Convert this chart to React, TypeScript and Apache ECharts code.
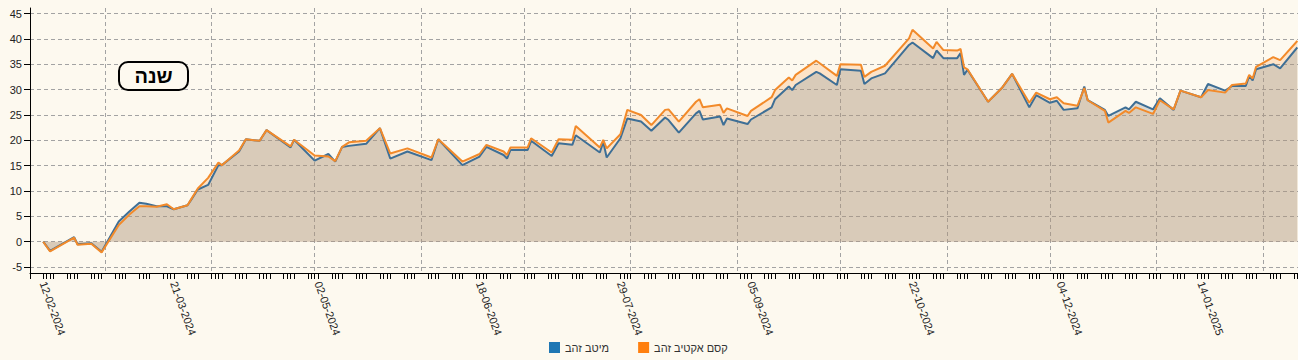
import React, { useEffect, useRef } from 'react';
import * as echarts from 'echarts';

// ---------- data ----------
const seriesNames = ['מיטב זהב', 'קסם אקטיב זהב'];
const periodLabel = 'שנה';

const dates = [
  '2024-02-12', '2024-02-14', '2024-02-21', '2024-02-22', '2024-02-26', '2024-02-29',
  '2024-03-05', '2024-03-08', '2024-03-11', '2024-03-13', '2024-03-16', '2024-03-19',
  '2024-03-21', '2024-03-25', '2024-03-26', '2024-03-28', '2024-03-31', '2024-04-03',
  '2024-04-04', '2024-04-09', '2024-04-11', '2024-04-15', '2024-04-17', '2024-04-24',
  '2024-04-25', '2024-05-01', '2024-05-05', '2024-05-07', '2024-05-09', '2024-05-11',
  '2024-05-16', '2024-05-20', '2024-05-23', '2024-05-28', '2024-06-04', '2024-06-06',
  '2024-06-13', '2024-06-18', '2024-06-20', '2024-06-25', '2024-06-26', '2024-06-27',
  '2024-07-02', '2024-07-03', '2024-07-09', '2024-07-11', '2024-07-15', '2024-07-16',
  '2024-07-23', '2024-07-24', '2024-07-25', '2024-07-29', '2024-07-31', '2024-08-04',
  '2024-08-07', '2024-08-11', '2024-08-12', '2024-08-15', '2024-08-20', '2024-08-21',
  '2024-08-22', '2024-08-27', '2024-08-28', '2024-08-29', '2024-09-04', '2024-09-05',
  '2024-09-11', '2024-09-12', '2024-09-16', '2024-09-17', '2024-09-18', '2024-09-24',
  '2024-09-25', '2024-09-30', '2024-10-01', '2024-10-07', '2024-10-08', '2024-10-10',
  '2024-10-14', '2024-10-21', '2024-10-22', '2024-10-28', '2024-10-29', '2024-10-31',
  '2024-11-04', '2024-11-05', '2024-11-06', '2024-11-07', '2024-11-13', '2024-11-17',
  '2024-11-20', '2024-11-25', '2024-11-27', '2024-12-01', '2024-12-03', '2024-12-05',
  '2024-12-09', '2024-12-11', '2024-12-12', '2024-12-17', '2024-12-18', '2024-12-23',
  '2024-12-24', '2024-12-26', '2024-12-31', '2025-01-02', '2025-01-06', '2025-01-08',
  '2025-01-14', '2025-01-16', '2025-01-21', '2025-01-23', '2025-01-27', '2025-01-28',
  '2025-01-29', '2025-01-30', '2025-02-04', '2025-02-06', '2025-02-11',
];

// מיטב זהב (blue)
const meitavGold = [
  0, -1.8, 0.9, -0.5, -0.3, -2.0,
  4.0, 5.9, 7.7, 7.5, 7.0, 7.0,
  6.4, 7.2, 8.2, 10.3, 11.2, 15.1,
  15.1, 17.8, 20.2, 19.9, 22.0, 18.6,
  20.1, 16.0, 17.3, 15.8, 18.7, 18.9,
  19.3, 22.4, 16.4, 17.8, 16.1, 20.2,
  15.1, 16.8, 18.7, 17.1, 16.4, 18.1,
  18.1, 19.9, 16.9, 19.4, 19.1, 21.0,
  17.6, 19.7, 16.6, 20.4, 24.3, 23.7,
  21.9, 24.5, 24.0, 21.5, 25.3, 25.8,
  24.1, 24.7, 23.0, 24.3, 23.2, 24.1,
  26.5, 28.1, 30.6, 29.9, 30.9, 33.5,
  33.2, 30.9, 34.0, 33.7, 31.1, 32.2,
  33.2, 38.8, 39.3, 36.2, 37.7, 36.2,
  36.2, 37.2, 32.9, 33.9, 27.6, 30.3,
  33.1, 26.5, 28.9, 27.4, 27.8, 26.0,
  26.3, 30.6, 27.9, 26.0, 24.8, 26.5,
  26.1, 27.6, 26.1, 28.3, 26.0, 29.8,
  28.5, 31.1, 29.8, 30.7, 30.7, 32.7,
  31.8, 34.0, 35.0, 34.2, 38.3,
];

// קסם אקטיב זהב (orange)
const kesemGold = [
  0, -1.9, 0.8, -0.6, -0.4, -2.1,
  3.3, 5.3, 7.0, 7.0, 6.9, 7.4,
  6.4, 7.2, 8.3, 10.5, 12.6, 15.6,
  15.1, 18.0, 20.2, 19.9, 22.0, 18.8,
  20.1, 17.0, 16.8, 15.9, 18.7, 19.6,
  19.9, 22.4, 17.4, 18.4, 16.6, 20.2,
  15.8, 17.3, 19.1, 17.8, 17.1, 18.6,
  18.6, 20.4, 17.6, 20.2, 20.1, 22.8,
  18.6, 20.1, 18.4, 21.2, 26.0, 25.0,
  23.0, 26.0, 26.1, 23.7, 27.6, 28.1,
  26.5, 27.0, 25.4, 26.3, 24.8, 25.8,
  28.5, 29.9, 32.4, 31.8, 32.9, 35.7,
  35.2, 32.7, 35.0, 34.9, 32.5, 33.5,
  34.7, 40.1, 41.8, 38.1, 39.4, 37.8,
  37.7, 38.0, 34.4, 34.0, 27.6, 30.3,
  33.1, 27.4, 29.4, 28.1, 28.5, 27.3,
  26.8, 30.3, 27.9, 25.8, 23.5, 25.8,
  25.4, 26.5, 25.2, 27.9, 26.1, 29.8,
  28.5, 29.9, 29.4, 30.9, 31.2, 32.9,
  32.2, 34.5, 36.4, 35.8, 39.6,
];

const labelDates = [
  '2024-02-12', '2024-03-21', '2024-05-02', '2024-06-18', '2024-07-29',
  '2024-09-05', '2024-10-22', '2024-12-04', '2025-01-14',
];
const monthStarts = [
  '2024-03-01', '2024-04-01', '2024-05-01', '2024-06-01', '2024-07-01', '2024-08-01',
  '2024-09-01', '2024-10-01', '2024-11-01', '2024-12-01', '2025-01-01', '2025-02-01',
];
const yTicks = [-5, 0, 5, 10, 15, 20, 25, 30, 35, 40, 45];

// ---------- helpers ----------
const DAY = 86400000;
const ts = (s: string) => {
  const [y, m, d] = s.split('-').map(Number);
  return new Date(y, m - 1, d).getTime();
};
const pad = (n: number) => (n < 10 ? '0' + n : '' + n);
const fmt = (v: number) => {
  const d = new Date(Math.round(v));
  return `${pad(d.getDate())}-${pad(d.getMonth() + 1)}-${d.getFullYear()}`;
};

const BG = '#fdf9ef';
const FONT = '"Liberation Sans", Arial, sans-serif';

export default function App() {
  const ref = useRef<HTMLDivElement>(null);

  useEffect(() => {
    if (!ref.current) return;
    const chart = echarts.init(ref.current, undefined, { renderer: 'svg' });

    const first = ts(dates[0]);
    const last = ts(dates[dates.length - 1]);
    const xMin = first - 3.84 * DAY;
    const xMax = last + 0.2 * DAY;

    // trading-day tick marks (Mon–Thu)
    const tickDays: number[] = [xMin];
    const f = new Date(first);
    for (let i = 0; ; i++) {
      const d = new Date(f.getFullYear(), f.getMonth(), f.getDate() + i);
      const t = d.getTime();
      if (t > last) break;
      const wd = d.getDay();
      if (wd >= 1 && wd <= 4) tickDays.push(t);
    }
    tickDays.push(xMax);

    const blueData = dates.map((d, i) => [ts(d), meitavGold[i]]);
    const orangeData = dates.map((d, i) => [ts(d), kesemGold[i]]);

    chart.setOption({
      animation: false,
      backgroundColor: BG,
      textStyle: { fontFamily: FONT },
      grid: { left: 30, right: 0, top: 8, bottom: 87, containLabel: false },
      legend: {
        data: seriesNames,
        left: 549,
        top: 342,
        padding: 0,
        icon: 'rect',
        itemWidth: 11,
        itemHeight: 11,
        itemGap: 29,
        textStyle: { fontSize: 11, color: '#333', fontFamily: FONT },
      },
      xAxis: [
        {
          type: 'value',
          min: xMin,
          max: xMax,
          axisLine: { show: true, onZero: false, lineStyle: { color: '#000', width: 1 } },
          axisTick: {
            show: true,
            length: 6,
            lineStyle: { color: '#000', width: 1 },
            customValues: tickDays,
          },
          axisLabel: {
            show: true,
            customValues: labelDates.map(ts),
            rotate: -70,
            margin: 9,
            fontSize: 11,
            color: '#222',
            fontFamily: FONT,
            formatter: (v: number) => fmt(v),
          },
          splitLine: { show: false },
        },
        {
          type: 'value',
          min: xMin,
          max: xMax,
          position: 'bottom',
          axisLine: { show: false, onZero: false },
          axisTick: { show: false, customValues: monthStarts.map(ts) },
          axisLabel: { show: false, customValues: monthStarts.map(ts) },
          splitLine: {
            show: true,
            lineStyle: { color: '#a3a3a3', width: 1, type: [4, 3] },
          },
        },
      ],
      yAxis: {
        type: 'value',
        min: -6.17,
        max: 46.09,
        axisLine: { show: true, lineStyle: { color: '#000', width: 1 } },
        axisTick: { show: true, length: 6, lineStyle: { color: '#000' }, customValues: yTicks },
        axisLabel: {
          customValues: yTicks,
          fontSize: 11,
          color: '#222',
          margin: 8,
          fontFamily: FONT,
        },
        splitLine: {
          show: true,
          lineStyle: { color: '#a3a3a3', width: 1, type: [4, 3] },
        },
      },
      graphic: [
        {
          type: 'rect',
          shape: { x: 119, y: 62, width: 69, height: 28, r: 9 },
          style: { fill: BG, stroke: '#000', lineWidth: 2 },
          z: 100,
        },
        {
          type: 'text',
          x: 153.5,
          y: 76,
          style: {
            text: periodLabel,
            fill: '#000',
            font: `bold 20px ${FONT}`,
            align: 'center',
            verticalAlign: 'middle',
          },
          z: 101,
        },
      ],
      series: [
        {
          name: 'orange-area',
          type: 'line',
          data: orangeData,
          symbol: 'none',
          silent: true,
          lineStyle: { width: 0, opacity: 0 },
          itemStyle: { color: 'rgba(255,127,14,0.18)' },
          areaStyle: { color: 'rgba(255,127,14,0.18)', opacity: 1 },
          z: 1,
        },
        {
          name: 'blue-area',
          type: 'line',
          data: blueData,
          symbol: 'none',
          silent: true,
          lineStyle: { width: 0, opacity: 0 },
          itemStyle: { color: 'rgba(149,158,160,0.35)' },
          areaStyle: { color: 'rgba(149,158,160,0.35)', opacity: 1 },
          z: 2,
        },
        {
          name: seriesNames[0],
          type: 'line',
          data: blueData,
          symbol: 'none',
          itemStyle: { color: '#1f77b4' },
          lineStyle: { color: '#3e6f96', width: 2 },
          z: 3,
        },
        {
          name: seriesNames[1],
          type: 'line',
          data: orangeData,
          symbol: 'none',
          itemStyle: { color: '#ff7f0e' },
          lineStyle: { color: '#f28a2a', width: 2 },
          z: 4,
        },
      ],
    });

    return () => chart.dispose();
  }, []);

  return (
    <div
      ref={ref}
      style={{ position: 'fixed', left: 0, top: 0, width: 1298, height: 360, background: BG }}
    />
  );
}
